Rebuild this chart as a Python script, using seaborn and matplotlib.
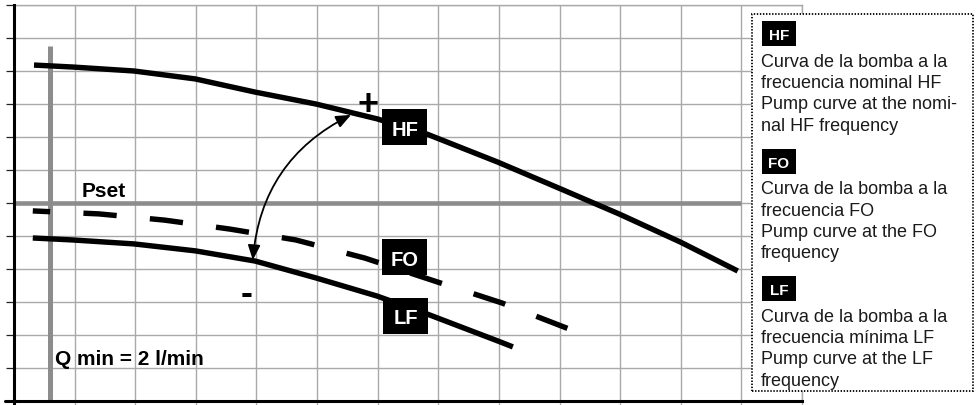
import matplotlib
matplotlib.use('Agg')
import matplotlib.pyplot as plt
import seaborn as sns
from matplotlib.patches import Rectangle, FancyArrowPatch
from matplotlib.lines import Line2D

# ---------------- data ----------------
hf_x = [0.33, 0.97, 1.98, 2.99, 3.98, 4.98, 5.99, 6.81, 7.98, 8.99, 9.98, 10.99, 11.94]
hf_y = [10.18, 10.12, 10.00, 9.76, 9.36, 9.00, 8.55, 8.09, 7.24, 6.45, 5.67, 4.82, 3.94]

fo_x = [0.31, 1.40, 2.49, 3.56, 4.65, 5.79, 6.93, 8.05, 9.16]
fo_y = [5.76, 5.67, 5.48, 5.21, 4.88, 4.33, 3.64, 2.97, 2.18]

lf_x = [0.31, 0.97, 1.98, 2.99, 3.98, 4.98, 5.99, 6.81, 7.98, 8.23]
lf_y = [4.94, 4.88, 4.76, 4.55, 4.24, 3.73, 3.18, 2.64, 1.82, 1.64]

pset_level = 6.0
pset_xmax = 12.0
qmin_x = 0.6
qmin_ytop = 10.75

curve_labels = ['HF', 'FO', 'LF']
label_x = [6.45, 6.45, 6.46]
label_y = [8.30, 4.36, 2.58]

arrow_start = (3.94, 4.27)
arrow_end = (5.56, 8.67)

x_ticks = list(range(0, 14))
y_ticks = list(range(0, 13))

legend_texts = [
    ['Curva de la bomba a la', 'frecuencia nominal HF', 'Pump curve at the nomi-', 'nal HF frequency'],
    ['Curva de la bomba a la', 'frecuencia FO', 'Pump curve at the FO', 'frequency'],
    ['Curva de la bomba a la', 'frecuencia mínima LF', 'Pump curve at the LF', 'frequency'],
]

# ---------------- style ----------------
sns.set_theme(style='white')
plt.rcParams['font.family'] = ['Liberation Sans', 'DejaVu Sans']
plt.rcParams['lines.scale_dashes'] = False
plt.rcParams['text.color'] = 'black'

W, H = 979, 406
fig = plt.figure(figsize=(W / 100, H / 100), dpi=100)
fig.patch.set_facecolor('white')
ax = fig.add_axes([14 / W, 4 / H, 788 / W, 396 / H])
ax.set_facecolor('white')
ax.set_xlim(0, 13)
ax.set_ylim(0, 12)
ax.set_xticks(x_ticks)
ax.set_yticks(y_ticks)
ax.set_xticklabels([])
ax.set_yticklabels([])
ax.grid(True, color='#a9a9a9', lw=1.0)
ax.set_axisbelow(True)
ax.tick_params(axis='y', left=True, length=6, width=0.9, color='#222222', direction='out')
ax.tick_params(axis='x', bottom=True, length=3, width=0.9, color='#a9a9a9', direction='out')
for s in ['top', 'right']:
    ax.spines[s].set_color('#a9a9a9')
    ax.spines[s].set_linewidth(1.0)
for s in ['left', 'bottom']:
    ax.spines[s].set_color('black')
    ax.spines[s].set_linewidth(2.2)
    ax.spines[s].set_zorder(4)

GREY = '#8c8c8c'
ax.hlines(pset_level, 0, pset_xmax, color=GREY, lw=3.3, zorder=1.5)
ax.vlines(qmin_x, 0, qmin_ytop, color=GREY, lw=3.6, zorder=1.5)

# curves
sns.lineplot(x=hf_x, y=hf_y, ax=ax, color='black', lw=3.9, sort=False, estimator=None)
sns.lineplot(x=lf_x, y=lf_y, ax=ax, color='black', lw=3.9, sort=False, estimator=None)
sns.lineplot(x=fo_x, y=fo_y, ax=ax, color='black', lw=3.9, sort=False, estimator=None)
for ln in ax.lines:
    ln.set_solid_capstyle('butt')
    ln.set_solid_joinstyle('round')
    ln.set_zorder(2)
ax.lines[-1].set_linestyle((11.5, (24, 24)))
ax.lines[-1].set_dash_capstyle('butt')
ax.lines[-1].set_dash_joinstyle('round')

# label boxes on curves
px_per_x = 788 / 13
px_per_y = 396 / 12
bw, bh = 45 / px_per_x, 36 / px_per_y
for lab, lx, ly in zip(curve_labels, label_x, label_y):
    ax.add_patch(Rectangle((lx - bw / 2, ly - bh / 2), bw, bh, fc='black', ec='none', zorder=5))
    ax.text(lx, ly, lab, color='white', fontsize=14.5, fontweight='bold',
            ha='center', va='center_baseline', zorder=6)

ax.text(1.12, 6.21, 'Pset', color='black', fontsize=15, fontweight='bold', va='baseline', ha='left', zorder=6)
ax.text(0.68, 1.12, 'Q min = 2 l/min', color='black', fontsize=15, fontweight='bold',
        va='baseline', ha='left', zorder=6)
ax.text(5.84, 9.12, '+', color='black', fontsize=26, fontweight='bold', ha='center',
        va='center_baseline', zorder=6)
ax.text(3.84, 3.39, '-', color='black', fontsize=26, fontweight='bold', ha='center',
        va='center_baseline', zorder=6)

arr = FancyArrowPatch(posA=arrow_start, posB=arrow_end, connectionstyle='arc3,rad=-0.28',
                      arrowstyle='<|-|>,head_length=0.6,head_width=0.25', mutation_scale=15,
                      lw=1.3, color='black', shrinkA=0, shrinkB=0, zorder=6)
ax.add_patch(arr)

# axis extensions
fig.add_artist(Line2D([14 / W, 14 / W], [0, 4 / H], color='black', lw=2.2, transform=fig.transFigure))
fig.add_artist(Line2D([5 / W, 14 / W], [4 / H, 4 / H], color='black', lw=2.2, transform=fig.transFigure))

# ---------------- legend panel ----------------
def fx(px):
    return px / W

def fy(py):
    return 1 - py / H

panel = Rectangle((fx(752), fy(392)), (973 - 752) / W, (392 - 15) / H, transform=fig.transFigure,
                  fc='white', ec='black', lw=1.3, ls=(0, (1, 1.2)), zorder=10)
fig.add_artist(panel)

for i, (lab, lines) in enumerate(zip(curve_labels, legend_texts)):
    off = 127.5 * i
    fig.add_artist(Rectangle((fx(762), fy(47 + off)), 34 / W, 25 / H, transform=fig.transFigure,
                             fc='black', ec='none', zorder=11))
    fig.text(fx(779), fy(34.5 + off), lab, color='white', fontsize=11, fontweight='bold',
             ha='center', va='center_baseline', zorder=12)
    for j, t in enumerate(lines):
        fig.text(fx(761), fy(67 + off + 21.2 * j), t, color='#1a1a1a', fontsize=13,
                 ha='left', va='baseline', zorder=12)

fig.savefig('out.png', dpi=100)
